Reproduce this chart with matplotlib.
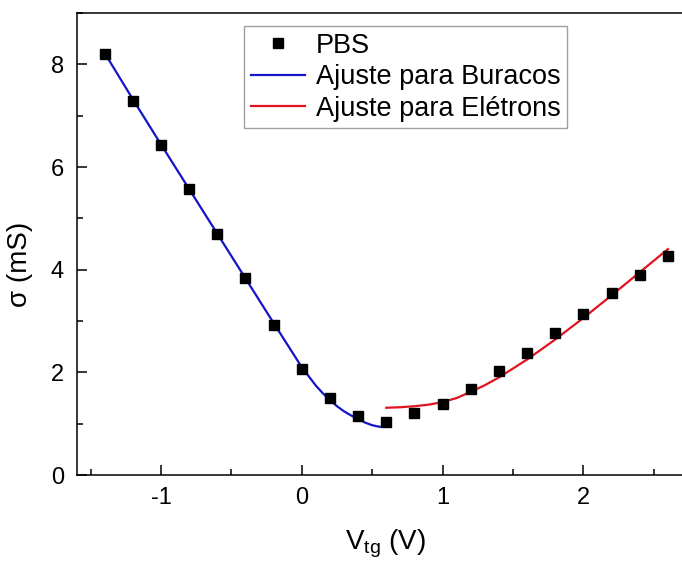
import matplotlib
matplotlib.use("Agg")
import matplotlib.pyplot as plt
from matplotlib.ticker import MultipleLocator

plt.rcParams['font.family'] = ['Liberation Sans', 'DejaVu Sans']
plt.rcParams['mathtext.default'] = 'regular'
plt.rcParams['axes.unicode_minus'] = False

# measured data (PBS)
vtg = [-1.4, -1.2, -1.0, -0.8, -0.6, -0.4, -0.2, 0.0, 0.2, 0.4, 0.6,
       0.8, 1.0, 1.2, 1.4, 1.6, 1.8, 2.0, 2.2, 2.4, 2.6]
sigma = [8.20, 7.28, 6.42, 5.58, 4.70, 3.83, 2.93, 2.07, 1.50, 1.15, 1.03,
         1.20, 1.38, 1.67, 2.02, 2.38, 2.76, 3.14, 3.54, 3.90, 4.27]

# hole fit curve
fit_h_x = [-1.4, -1.2, -1.0, -0.8, -0.6, -0.4, -0.2, 0.0, 0.05, 0.1, 0.15,
           0.2, 0.25, 0.3, 0.35, 0.4, 0.45, 0.5, 0.55, 0.6]
fit_h_y = [8.22, 7.32, 6.44, 5.57, 4.70, 3.83, 2.96, 2.10, 1.92, 1.74, 1.59,
           1.46, 1.34, 1.24, 1.16, 1.09, 1.02, 0.97, 0.94, 0.94]

# electron fit curve
fit_e_x = [0.6, 0.7, 0.8, 0.9, 1.0, 1.1, 1.2, 1.3, 1.4, 1.6, 1.8, 2.0,
           2.2, 2.4, 2.6]
fit_e_y = [1.31, 1.32, 1.34, 1.37, 1.42, 1.50, 1.62, 1.75, 1.90, 2.25,
           2.64, 3.06, 3.50, 3.95, 4.40]

fig = plt.figure(figsize=(6.82, 5.61), dpi=100)
ax = fig.add_axes([76.5 / 682, 86 / 561, 1 - 76.5 / 682, (475 - 13) / 561])

ax.plot(vtg, sigma, linestyle='none', marker='s', color='black',
        markersize=7.5, label='PBS', zorder=3)
ax.plot(fit_h_x, fit_h_y, color='#1414C8', linewidth=1.6,
        label='Ajuste para Buracos', zorder=2)
ax.plot(fit_e_x, fit_e_y, color='#E0141E', linewidth=1.6,
        label='Ajuste para Elétrons', zorder=2)

ax.set_xlim(-1.6, 2.7)
ax.set_ylim(0, 9)
ax.xaxis.set_major_locator(MultipleLocator(1))
ax.xaxis.set_minor_locator(MultipleLocator(0.5))
ax.yaxis.set_major_locator(MultipleLocator(2))
ax.yaxis.set_minor_locator(MultipleLocator(1))

ax.tick_params(which='both', direction='in', top=False, right=False,
               labelsize=17, width=1.1)
ax.tick_params(which='major', length=7, pad=9)
ax.tick_params(which='minor', length=4)
for s in ['left', 'bottom', 'top']:
    ax.spines[s].set_linewidth(1.1)
ax.spines['right'].set_visible(False)

ax.set_xlabel('V$_{tg}$ (V)', fontsize=20)
ax.set_ylabel('σ (mS)', fontsize=20)
ax.xaxis.set_label_coords(0.51, -0.113)
ax.yaxis.set_label_coords(-0.072, 0.455)

leg = ax.legend(loc='upper left', bbox_to_anchor=(0.2766, 0.972),
                borderaxespad=0, fontsize=19.5, frameon=True, fancybox=False,
                edgecolor='#888888', handlelength=2.0, handletextpad=0.4,
                borderpad=0.25, labelspacing=0.2, markerscale=0.9)
leg.get_frame().set_linewidth(1.0)

fig.savefig('out.png', dpi=100)
